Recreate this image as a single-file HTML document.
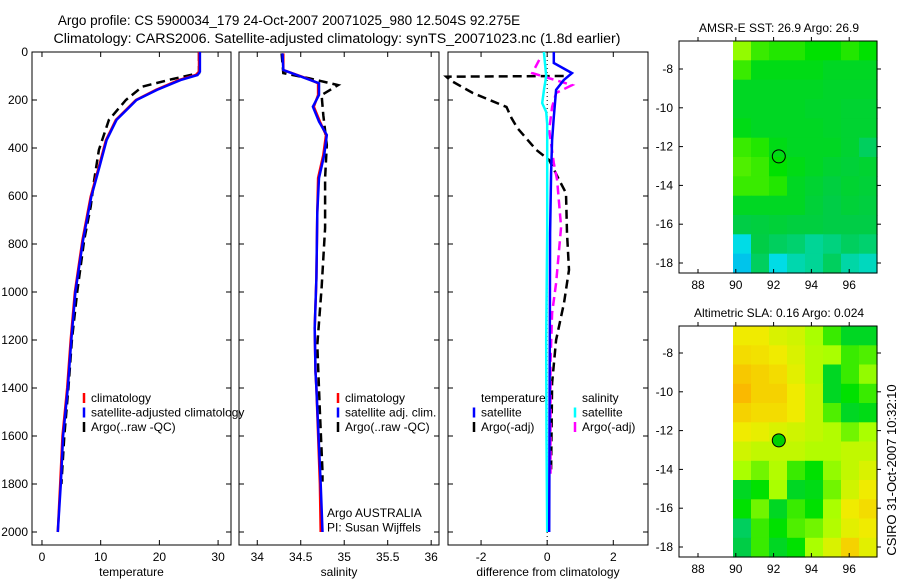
<!DOCTYPE html>
<html><head><meta charset="utf-8"><style>
body{margin:0;background:#fff;}
svg{display:block;font-family:"Liberation Sans",sans-serif;}
</style></head><body>
<svg id="chart" width="900" height="580" viewBox="0 0 900 580" xmlns="http://www.w3.org/2000/svg">
<text x="289" y="25" font-size="13.5" text-anchor="middle">Argo profile: CS 5900034_179 24-Oct-2007 20071025_980 12.504S 92.275E</text>
<text x="337" y="43" font-size="14.2" text-anchor="middle">Climatology: CARS2006. Satellite-adjusted climatology: synTS_20071023.nc (1.8d earlier)</text>
<g id="plots"></g>
<text transform="translate(896,470) rotate(-90)" font-size="13" text-anchor="middle">CSIRO 31-Oct-2007 10:32:10</text>
</svg>
<script>
// ---- profile data (depth m, value) ----
const tClimDepth=[0,82,96,117,158,200,283,367,478,603,783,1000,1200,1400,1600,1800,2000];
const tClimVal=[26.75,26.75,26.2,23.3,19.4,16.0,12.6,10.9,9.7,8.3,6.9,5.6,4.9,4.3,3.5,3.1,2.7];
const tSatVal=[26.9,26.9,26.5,23.6,19.6,16.1,12.7,11.0,9.8,8.4,7.0,5.7,5.0,4.4,3.6,3.2,2.7];
const tArgoDepth=[0,88,113,144,200,283,408,533,644,783,1000,1200,1400,1600,1800];
const tArgoVal=[26.75,26.75,22.2,17.1,14.3,11.4,9.7,8.9,8.3,7.2,6.0,5.1,4.5,3.8,3.3];
const sClimDepth=[6,75,110,130,179,228,290,346,429,525,667,942,1150,1333,1400,1800,2000];
const sClimVal=[34.30,34.30,34.57,34.70,34.70,34.65,34.72,34.79,34.76,34.70,34.69,34.68,34.66,34.67,34.68,34.72,34.73];
const sSatVal=[34.29,34.30,34.56,34.71,34.71,34.64,34.71,34.80,34.77,34.71,34.69,34.68,34.66,34.67,34.68,34.73,34.75];
const sArgoDepth=[6,88,110,138,179,263,388,525,733,983,1221,1500,1750,1790];
const sArgoVal=[34.28,34.30,34.60,34.93,34.74,34.76,34.80,34.78,34.78,34.74,34.69,34.72,34.75,34.75];
const dTSatDepth=[0,46,88,117,158,271,367,504,754,1200,1600,2000];
const dTSatVal=[0.2,0.2,0.75,0.5,0.27,0.2,0.15,0.12,0.09,0.08,0.07,0.06];
const dTArgoDepth=[100,103,117,171,229,275,317,408,450,533,588,754,908,1046,1200,1379,1742];
const dTArgoVal=[0.5,-3.05,-2.94,-2.25,-1.23,-1.08,-0.9,-0.33,0.06,0.36,0.57,0.6,0.66,0.51,0.27,0.15,0.12];
const dSSatDepth=[0,100,160,213,250,300,754,1200,1600,2000];
const dSSatVal=[-0.1,-0.03,-0.1,-0.15,-0.03,0,0,-0.03,-0.02,0];
const dSArgoDepth=[33,88,138,171,229,325,463,533,729,963,1088,1296,1771];
const dSArgoVal=[-0.24,-0.45,0.75,0.27,0.15,0.06,0.2,0.3,0.42,0.27,0.15,0.1,0.1];
const depthTicks=[0,200,400,600,800,1000,1200,1400,1600,1800,2000];
const tempTicks=[0,10,20,30];
const salTicks=[34,34.5,35,35.5,36];
const diffTicks=[-2,0,2];
// ---- map data ----
const sstGrid=[
[0.68,0.6,0.58,0.58,0.55,0.55,0.58,0.55],
[0.6,0.52,0.52,0.52,0.52,0.5,0.5,0.5],
[0.5,0.5,0.5,0.5,0.5,0.49,0.49,0.49],
[0.5,0.5,0.5,0.5,0.49,0.49,0.48,0.48],
[0.52,0.5,0.5,0.5,0.5,0.49,0.48,0.48],
[0.6,0.58,0.52,0.5,0.5,0.5,0.48,0.42],
[0.62,0.6,0.55,0.52,0.5,0.48,0.47,0.48],
[0.6,0.6,0.58,0.5,0.48,0.46,0.48,0.47],
[0.5,0.5,0.5,0.5,0.47,0.45,0.47,0.46],
[0.45,0.46,0.47,0.46,0.46,0.45,0.45,0.45],
[0.25,0.45,0.42,0.4,0.35,0.38,0.42,0.4],
[0.2,0.42,0.25,0.32,0.35,0.42,0.33,0.3]];
const slaGrid=[
[0.85,0.85,0.8,0.78,0.7,0.6,0.5,0.5],
[0.88,0.87,0.85,0.8,0.72,0.7,0.6,0.62],
[0.92,0.9,0.88,0.82,0.72,0.5,0.6,0.68],
[0.95,0.9,0.9,0.85,0.75,0.5,0.55,0.6],
[0.9,0.88,0.88,0.85,0.75,0.62,0.5,0.52],
[0.85,0.83,0.8,0.78,0.75,0.72,0.65,0.7],
[0.78,0.75,0.75,0.75,0.72,0.72,0.75,0.75],
[0.7,0.65,0.72,0.6,0.55,0.68,0.75,0.8],
[0.5,0.55,0.7,0.5,0.52,0.65,0.78,0.85],
[0.55,0.65,0.5,0.6,0.55,0.7,0.85,0.88],
[0.42,0.6,0.55,0.62,0.65,0.72,0.82,0.85],
[0.45,0.6,0.5,0.55,0.7,0.8,0.9,0.82]];
const latTicks=[-8,-10,-12,-14,-16,-18];
const lonTicks=[88,90,92,94,96];
const floatLon=92.275, floatLat=-12.504;

const NS="http://www.w3.org/2000/svg";
const root=document.getElementById('plots');
function mk(tag,attrs,parent){const e=document.createElementNS(NS,tag);for(const k in attrs)e.setAttribute(k,attrs[k]);(parent||root).appendChild(e);return e;}
const top0=52,bot=545;
const yD=d=>top0+d*0.24;

function panel(name,x0,x1,vmin,vmax,ticks,label,showY){
  const g=mk('g',{});
  
  
  const xs=v=>x0+(v-vmin)/(vmax-vmin)*(x1-x0);
  const fr=mk('rect',{x:x0,y:top0,width:x1-x0,height:bot-top0,fill:'none',stroke:'#000','stroke-width':1},g);
  
  
  ticks.forEach(t=>{
    const x=xs(t);
    mk('line',{x1:x,x2:x,y1:bot,y2:bot-5,stroke:'#000'},g);
    mk('line',{x1:x,x2:x,y1:top0,y2:top0+5,stroke:'#000'},g);
    const tx=mk('text',{x:x,y:bot+16,'font-size':12,'text-anchor':'middle'},g);
    tx.textContent=t;
    
    
  });
  depthTicks.forEach(d=>{
    const y=yD(d);
    mk('line',{x1:x0,x2:x0+5,y1:y,y2:y,stroke:'#000'},g);
    mk('line',{x1:x1,x2:x1-5,y1:y,y2:y,stroke:'#000'},g);
    if(showY){const tx=mk('text',{x:x0-4,y:y+4,'font-size':12,'text-anchor':'end'},g);tx.textContent=d;
      
      }
  });
  const xl=mk('text',{x:(x0+x1)/2,y:bot+31,'font-size':12,'text-anchor':'middle'},g);
  xl.textContent=label;
  
  
  return {g,xs};
}
function line(p,nm,dep,val,col,dash,w){
  const pts=dep.map((d,i)=>p.xs(val[i]).toFixed(1)+','+yD(d).toFixed(1)).join(' ');
  const l=mk('polyline',{points:pts,fill:'none',stroke:col,'stroke-width':w||2.5},p.g);
  if(dash)l.setAttribute('stroke-dasharray',dash);
  
  
}
function legend(p,x,y,items){
  items.forEach((it,i)=>{
    const yy=y+i*14.5;
    if(it[1]){const m=mk('line',{x1:x,x2:x,y1:yy-9,y2:yy+1,stroke:it[1],'stroke-width':2.5},p.g);
      
      }
    const t=mk('text',{x:x+7,y:yy,'font-size':12},p.g);t.textContent=it[0];
    
    
  });
}
const p1=panel('temperature-panel',32,231,-1.7,32.2,tempTicks,'temperature',true);
line(p1,'temp-argo-line',tArgoDepth,tArgoVal,'#000','9,5');
line(p1,'temp-climatology-line',tClimDepth,tClimVal,'#f00');
line(p1,'temp-satellite-line',tClimDepth,tSatVal,'#00f');
legend(p1,84,402,[['climatology','#f00'],['satellite-adjusted climatology','#00f'],['Argo(..raw -QC)','#000']]);
const p2=panel('salinity-panel',239,439,33.79,36.09,salTicks,'salinity',false);
line(p2,'sal-argo-line',sArgoDepth,sArgoVal,'#000','9,5');
line(p2,'sal-climatology-line',sClimDepth,sClimVal,'#f00');
line(p2,'sal-satellite-line',sClimDepth,sSatVal,'#00f');
legend(p2,338,402,[['climatology','#f00'],['satellite adj. clim.','#00f'],['Argo(..raw -QC)','#000']]);
legend(p2,320,517,[['Argo AUSTRALIA',null],['PI: Susan Wijffels',null]]);
const p3=panel('difference-panel',448,648,-3.0,3.05,diffTicks,'difference from climatology',false);
const zl=mk('line',{x1:p3.xs(0),x2:p3.xs(0),y1:top0,y2:bot,stroke:'#000','stroke-dasharray':'1,3'},p3.g);


line(p3,'diff-temp-argo-line',dTArgoDepth,dTArgoVal,'#000','9,5');
line(p3,'diff-sal-argo-line',dSArgoDepth,dSArgoVal,'#f0f','9,5');
line(p3,'diff-sal-satellite-line',dSSatDepth,dSSatVal,'#0ff');
line(p3,'diff-temp-satellite-line',dTSatDepth,dTSatVal,'#00f');
legend(p3,474,402,[['temperature',null],['satellite','#00f'],['Argo(-adj)','#000']]);
legend(p3,575,402,[['salinity',null],['satellite','#0ff'],['Argo(-adj)','#f0f']]);
const stops=[[0,[0,100,255]],[0.25,[0,220,230]],[0.45,[0,205,70]],[0.55,[0,225,0]],[0.7,[170,255,0]],[0.85,[240,235,0]],[1,[255,160,0]]];
function cmap(v){for(let i=1;i<stops.length;i++){if(v<=stops[i][0]){const a=stops[i-1],b=stops[i],f=(v-a[0])/(b[0]-a[0]);
  const c=a[1].map((x,k)=>Math.round(x+(b[1][k]-x)*f));return `rgb(${c})`;}}return 'rgb(255,160,0)';}
function map(name,title,grid,bx0,by0,bx1,by1,yM8,filled){
  const g=mk('g',{});
  
  
  const ppd=18.9, ppl=19.4;
  const xL=lon=>698+(lon-88)*ppd;
  const yL=lat=>yM8+(-8-lat)*ppl;
  const latTop=-8+(yM8-by0)/ppl, latBot=-8-(by1-yM8)/ppl;
  const lonL=89.85, lonR=88+(bx1-698)/ppd;
  const rows=grid.length, cols=grid[0].length;
  const dlat=(latTop-latBot)/rows, dlon=(lonR-lonL)/cols;
  grid.forEach((row,r)=>row.forEach((v,c)=>{
    const x=xL(lonL+c*dlon), y=yL(latTop-r*dlat);
    const cell=mk('rect',{x:x.toFixed(1),y:y.toFixed(1),width:(dlon*ppd+0.6).toFixed(1),height:(dlat*ppl+0.6).toFixed(1),fill:cmap(v)},g);
    
    
  }));
  const fr=mk('rect',{x:bx0,y:by0,width:bx1-bx0,height:by1-by0,fill:'none',stroke:'#000'},g);
  
  
  latTicks.forEach(t=>{const y=yL(t);
    mk('line',{x1:bx0,x2:bx0+4,y1:y,y2:y,stroke:'#000'},g);
    mk('line',{x1:bx1,x2:bx1+4,y1:y,y2:y,stroke:'#000'},g);
    const tx=mk('text',{x:bx0-6,y:y+4,'font-size':12,'text-anchor':'end'},g);tx.textContent=t;
    
    });
  lonTicks.forEach(t=>{const x=xL(t);
    mk('line',{x1:x,x2:x,y1:by0,y2:by0-4,stroke:'#000'},g);
    mk('line',{x1:x,x2:x,y1:by1,y2:by1-4,stroke:'#000'},g);
    const tx=mk('text',{x:x,y:by1+16,'font-size':12,'text-anchor':'middle'},g);tx.textContent=t;
    
    });
  const tt=mk('text',{x:(bx0+bx1)/2+1,y:by0-9,'font-size':12,'text-anchor':'middle'},g);tt.textContent=title;
  
  
  const ci=mk('circle',{cx:xL(floatLon),cy:yL(floatLat),r:6.5,fill:filled?'#00d000':'none',stroke:'#000','stroke-width':1},g);
  
  
}
map('sst-map','AMSR-E SST: 26.9 Argo: 26.9',sstGrid,679,41,877,273,69,false);
map('sla-map','Altimetric SLA: 0.16 Argo: 0.024',slaGrid,679,326,877,557,353,true);
</script>
</body></html>
